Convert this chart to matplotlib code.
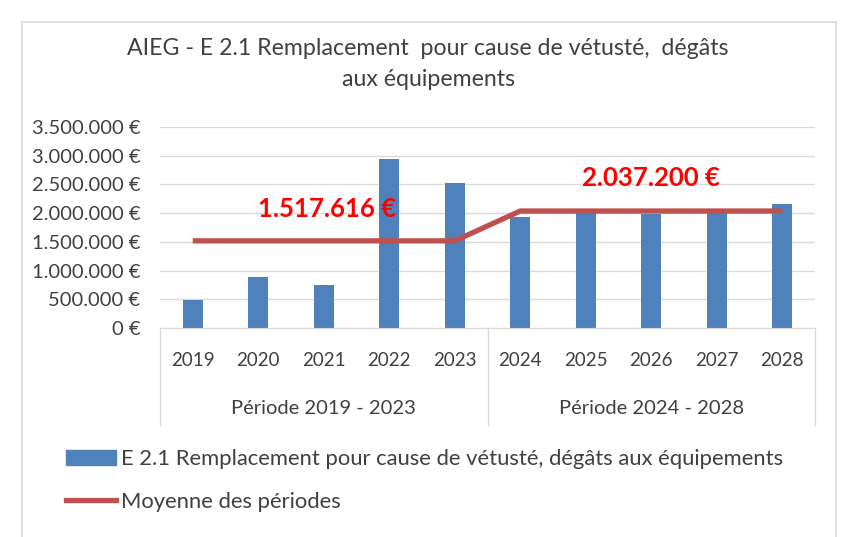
import matplotlib
matplotlib.use("Agg")
import matplotlib.pyplot as plt
import matplotlib.transforms as mtransforms
from matplotlib.patches import Rectangle
from matplotlib.lines import Line2D

years = ["2019", "2020", "2021", "2022", "2023", "2024", "2025", "2026", "2027", "2028"]
values = [480000, 880000, 750000, 2950000, 2528000, 1930000, 2050000, 1980000, 2060000, 2166000]
periods = ["Période 2019 - 2023", "Période 2024 - 2028"]
period_means = [1517616, 2037200]
mean_labels = ["1.517.616 €", "2.037.200 €"]
yticks = [0, 500000, 1000000, 1500000, 2000000, 2500000, 3000000, 3500000]
title = "AIEG - E 2.1 Remplacement  pour cause de vétusté,  dégâts\naux équipements"
bar_label = "E 2.1 Remplacement pour cause de vétusté, dégâts aux équipements"
line_label = "Moyenne des périodes"

plt.rcParams['font.family'] = ['Lato', 'DejaVu Sans']

W, H = 846, 537
fig = plt.figure(figsize=(W / 100, H / 100), dpi=100)
fig.patch.set_facecolor("white")

# chart frame
fig.patches.append(Rectangle((22 / W, -0.01), (836 - 22) / W, 1 - 22 / H + 0.01,
                             transform=fig.transFigure, fill=False,
                             edgecolor="#D9D9D9", linewidth=1.2))

left, right, top0, bot0 = 160, 815, 127, 328
ax = fig.add_axes([left / W, 1 - bot0 / H, (right - left) / W, (bot0 - top0) / H])

x = list(range(len(years)))
ax.bar(x, values, width=0.31, color="#4F81BD", zorder=2, label=bar_label)

line_vals = [period_means[0]] * 5 + [period_means[1]] * 5
ax.plot(x, line_vals, color="#C0504D", linewidth=3.8, zorder=3, label=line_label,
        solid_capstyle="butt")

ax.set_xlim(-0.5, len(years) - 0.5)
ax.set_ylim(0, 3500000)
ax.set_yticks(yticks)
ax.set_yticklabels([f"{v:,.0f} €".replace(",", ".") for v in yticks], fontsize=14.5, color="#404040")
ax.yaxis.grid(True, color="#D9D9D9", linewidth=1, zorder=0)
ax.set_axisbelow(True)
ax.tick_params(axis="y", length=0, pad=14)
ax.tick_params(axis="x", length=0, pad=17)
ax.set_xticks(x)
ax.set_xticklabels(years, fontsize=13.5, color="#404040")
for s in ["top", "right", "left"]:
    ax.spines[s].set_visible(False)
ax.spines["bottom"].set_color("#D9D9D9")

# multi-level category axis
trans = mtransforms.blended_transform_factory(ax.transData, ax.transAxes)
sep_bottom = -(425 - bot0) / (bot0 - top0)
for xs in [-0.5, 4.5, 9.5]:
    ax.plot([xs, xs], [0, sep_bottom], transform=trans, color="#D9D9D9",
            linewidth=1, clip_on=False)
period_y = -(408 - bot0) / (bot0 - top0)
ax.text(2, period_y, periods[0], transform=trans, ha="center", va="center",
        fontsize=14.5, color="#404040")
ax.text(7, period_y, periods[1], transform=trans, ha="center", va="center",
        fontsize=14.5, color="#404040")

# mean labels
ax.text(2.05, 2070000, mean_labels[0], ha="center", va="center", fontsize=18.5,
        fontweight="bold", color="#FF0000")
ax.text(7.0, 2610000, mean_labels[1], ha="center", va="center", fontsize=18.5,
        fontweight="bold", color="#FF0000")

fig.text(428 / W, 1 - 64 / H, title, ha="center", va="center", fontsize=16.7,
         color="#404040", linespacing=1.6)

handles = [Rectangle((0, 0), 1, 1, color="#4F81BD"),
           Line2D([0], [0], color="#C0504D", linewidth=3.8)]
fig.legend(handles, [bar_label, line_label], loc="upper left",
           bbox_to_anchor=(66 / W, 1 - 449 / H), frameon=False, fontsize=15.8,
           handlelength=2.3, handletextpad=0.22, labelspacing=1.05,
           labelcolor="#404040", borderaxespad=0, borderpad=0)

fig.savefig("out.png", dpi=100, facecolor="white")
